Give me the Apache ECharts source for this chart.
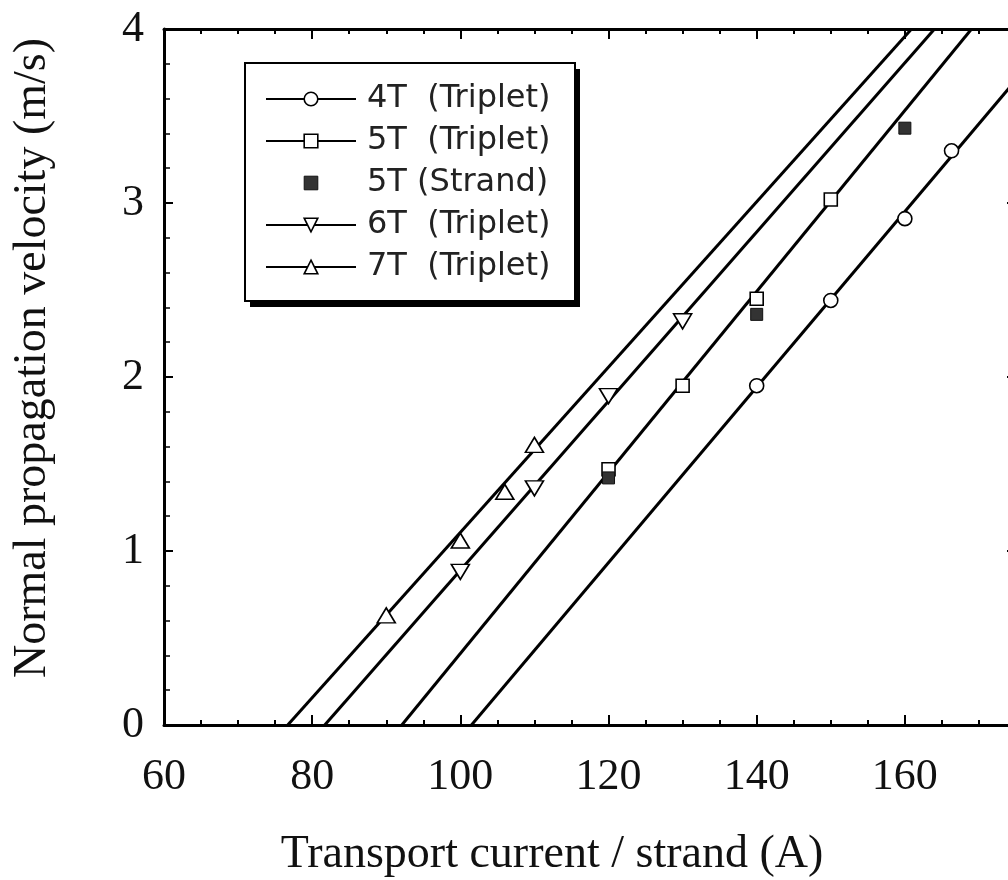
<!DOCTYPE html>
<html>
<head>
<meta charset="utf-8">
<script src="https://cdn.jsdelivr.net/npm/echarts@6/dist/echarts.min.js"></script>
<style>
  html, body { margin: 0; padding: 0; background: #fff; }
  #chart { width: 1008px; height: 880px; }
</style>
</head>
<body>
<div id="chart"></div>
<script>
// Measured normal propagation velocity (m/s) vs transport current per strand (A)
const current4T = [140, 150, 160, 166.3];
const velocity4T = [1.95, 2.44, 2.91, 3.30];

const current5T = [120, 130, 140, 150];
const velocity5T = [1.47, 1.95, 2.45, 3.02];

const current5TStrand = [120, 140, 160];
const velocity5TStrand = [1.42, 2.36, 3.43];

const current6T = [100, 110, 120, 130];
const velocity6T = [0.88, 1.36, 1.89, 2.32];

const current7T = [90, 100, 106, 110];
const velocity7T = [0.63, 1.06, 1.34, 1.61];

// Linear fits: [current, velocity] at both ends of each line
const fit4T = [[101.5, 0], [180.8, 4]];
const fit5T = [[92.1, 0], [169.0, 4]];
const fit6T = [[81.7, 0], [164.0, 4]];
const fit7T = [[76.7, 0], [160.9, 4]];

// Axis settings
const xMin = 60, xMax = 175, xMajor = 20, xMinor = 5;
const yMin = 0, yMax = 4, yMajor = 1;

const legendNames = ['4T  (Triplet)', '5T  (Triplet)', '5T (Strand)', '6T  (Triplet)', '7T  (Triplet)'];

const pair = (xs, ys) => xs.map((x, i) => [x, ys[i]]);

const serifFont = '"Liberation Serif", "Times New Roman", serif';
const sansFont = '"DejaVu Sans", Verdana, sans-serif';

const openMark = { color: '#fff', borderColor: '#000', borderWidth: 1.6 };
const filledMark = { color: '#333', borderColor: '#111', borderWidth: 1 };

function markerSeries(name, data, symbol, size, style, rotate) {
  return {
    name: name,
    type: 'line',
    data: data,
    symbol: symbol,
    symbolSize: size,
    symbolRotate: rotate || 0,
    showSymbol: true,
    lineStyle: { width: 0, opacity: 0 },
    itemStyle: style,
    z: 5,
    silent: true,
    animation: false
  };
}

function fitSeries(data) {
  return {
    type: 'line',
    data: data,
    symbol: 'none',
    lineStyle: { color: '#000', width: 3 },
    z: 3,
    silent: true,
    animation: false
  };
}

function xAxisOf(position, major, showLabel) {
  return {
    type: 'value',
    position: position,
    min: xMin,
    max: xMax,
    interval: major ? xMajor : xMinor,
    axisLine: { show: major, onZero: false, lineStyle: { color: '#000', width: 3 } },
    axisTick: { show: true, inside: true, length: major ? 10 : 5, lineStyle: { color: '#000', width: 2 } },
    axisLabel: {
      show: showLabel,
      margin: 30,
      color: '#111',
      fontFamily: serifFont,
      fontSize: 44,
      showMaxLabel: false
    },
    splitLine: { show: false }
  };
}

function yAxisOf(position, showLabel) {
  return {
    type: 'value',
    position: position,
    min: yMin,
    max: yMax,
    interval: yMajor,
    axisLine: { show: true, onZero: false, lineStyle: { color: '#000', width: 3 } },
    axisTick: { show: true, inside: true, length: 9, lineStyle: { color: '#000', width: 2 } },
    minorTick: { show: true, splitNumber: 5, length: 6, lineStyle: { color: '#000', width: 1.5 } },
    axisLabel: {
      show: showLabel,
      margin: 20,
      color: '#111',
      fontFamily: serifFont,
      fontSize: 44
    },
    splitLine: { show: false }
  };
}

const chart = echarts.init(document.getElementById('chart'), null, { renderer: 'canvas' });

const legendLine = { color: '#000', width: 2, opacity: 1, type: 'solid' };

// Legend frame with a hard drop shadow
const legendBox = { x: 245, y: 63, width: 330, height: 238 };
const shadowOffset = 5;

chart.setOption({
  backgroundColor: '#fff',
  animation: false,
  grid: { left: 164, top: 29, right: -8, bottom: 155, outerBoundsMode: 'none' },
  xAxis: [
    xAxisOf('bottom', true, true),
    xAxisOf('bottom', false, false),
    xAxisOf('top', true, false),
    xAxisOf('top', false, false)
  ],
  yAxis: [
    yAxisOf('left', true),
    yAxisOf('right', false)
  ],
  legend: {
    orient: 'vertical',
    left: legendBox.x,
    top: legendBox.y,
    padding: [20, 10, 10, 20],
    itemWidth: 90,
    itemHeight: 17,
    itemGap: 10,
    selectedMode: false,
    z: 20,
    textStyle: { fontFamily: sansFont, fontSize: 32, color: '#222', padding: [0, 0, 0, 6] },
    data: [
      { name: legendNames[0], lineStyle: legendLine, itemStyle: openMark },
      { name: legendNames[1], lineStyle: legendLine, itemStyle: openMark },
      { name: legendNames[2], lineStyle: { opacity: 0, width: 0 }, itemStyle: filledMark },
      { name: legendNames[3], lineStyle: legendLine, itemStyle: openMark },
      { name: legendNames[4], lineStyle: legendLine, itemStyle: openMark }
    ]
  },
  graphic: [
    {
      type: 'rect',
      z: 10,
      silent: true,
      shape: {
        x: legendBox.x + shadowOffset,
        y: legendBox.y + shadowOffset + 1,
        width: legendBox.width,
        height: legendBox.height
      },
      style: { fill: '#000' }
    },
    {
      type: 'rect',
      z: 11,
      silent: true,
      shape: legendBox,
      style: { fill: '#fff', stroke: '#000', lineWidth: 2 }
    },
    {
      type: 'text',
      x: 552,
      y: 855,
      style: {
        text: 'Transport current / strand (A)',
        font: '46px ' + serifFont,
        fill: '#111',
        align: 'center',
        verticalAlign: 'middle'
      }
    },
    {
      type: 'text',
      x: 33,
      y: 358,
      rotation: Math.PI / 2,
      style: {
        text: 'Normal propagation velocity (m/s)',
        font: '46px ' + serifFont,
        fill: '#111',
        align: 'center',
        verticalAlign: 'middle'
      }
    }
  ],
  series: [
    fitSeries(fit4T),
    fitSeries(fit5T),
    fitSeries(fit6T),
    fitSeries(fit7T),
    markerSeries(legendNames[0], pair(current4T, velocity4T), 'circle', 14, openMark),
    markerSeries(legendNames[1], pair(current5T, velocity5T), 'rect', 13, openMark),
    markerSeries(legendNames[2], pair(current5TStrand, velocity5TStrand), 'rect', 12, filledMark),
    markerSeries(legendNames[3], pair(current6T, velocity6T), 'triangle', [18, 15], openMark, 180),
    markerSeries(legendNames[4], pair(current7T, velocity7T), 'triangle', [18, 15], openMark)
  ]
});
</script>
</body>
</html>
